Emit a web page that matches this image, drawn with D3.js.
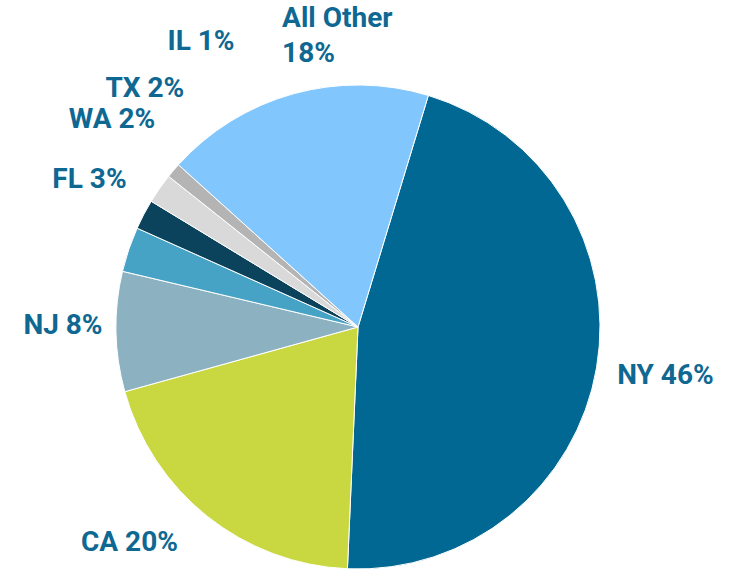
<!DOCTYPE html>
<html>
<head>
<meta charset="utf-8">
<script src="https://cdn.jsdelivr.net/npm/d3@7"></script>
<style>
  body { margin: 0; background: #fff; }
  .pie-label { font-family: Roboto, sans-serif; font-weight: 700; font-size: 28px; fill: #0e6892; }
</style>
</head>
<body>
<svg id="chart" width="741" height="570"></svg>
<script>
const states = ["NY", "CA", "NJ", "FL", "WA", "TX", "IL", "All Other"];
const shares = [46, 20, 8, 3, 2, 2, 1, 18];
const colors = ["#006892", "#c9d841", "#8cb1c0", "#46a3c5", "#0b425c", "#d9d9d9", "#b4b4b4", "#81c7fe"];

// where each label sits: angle (deg, clockwise from 12 o'clock) and distance from centre
const labelPos = {
  "NY": [98.7, 311], "CA": [226.9, 313], "NJ": [270.6, 295], "FL": [299, 307],
  "WA": [310.4, 323], "TX": [318.4, 321], "IL": [331.3, 327], "All Other": [355.7, 292]
};

const width = 741, height = 570, r = 242, cx = 358, cy = 327;
const startAngle = 16.9 * Math.PI / 180;

const data = states.map((s, i) => ({state: s, value: shares[i]}));
const pie = d3.pie().sort(null).value(d => d.value)
  .startAngle(startAngle).endAngle(startAngle + 2 * Math.PI)(data);
const arc = d3.arc().outerRadius(r).innerRadius(0);
const colorScale = d3.scaleOrdinal().domain(states).range(colors);

const svg = d3.select("#chart");
const g = svg.append("g").attr("transform", "translate(" + cx + "," + cy + ")");

g.selectAll("path.slice")
  .data(pie)
  .enter().append("path")
  .attr("class", "slice")
  .attr("d", arc)
  .style("fill", d => colorScale(d.data.state))
  .style("stroke", "#fff")
  .style("stroke-width", 1);

const labels = g.selectAll("text.pie-label")
  .data(pie)
  .enter().append("text")
  .attr("class", "pie-label")
  .attr("text-anchor", "middle")
  .attr("transform", d => {
    const [deg, dist] = labelPos[d.data.state];
    const a = deg * Math.PI / 180;
    return "translate(" + (dist * Math.sin(a)) + "," + (-dist * Math.cos(a)) + ")";
  });

labels.each(function(d) {
  const t = d3.select(this);
  if (d.data.state === "All Other") {
    t.attr("text-anchor", "start");
    t.append("tspan").attr("x", -54).attr("dy", "-0.3em").text("All Other");
    t.append("tspan").attr("x", -54).attr("dy", "1.25em").text(d.data.value + "%");
  } else {
    t.attr("dy", "0.36em").text(d.data.state + " " + d.data.value + "%");
  }
});
</script>
</body>
</html>
